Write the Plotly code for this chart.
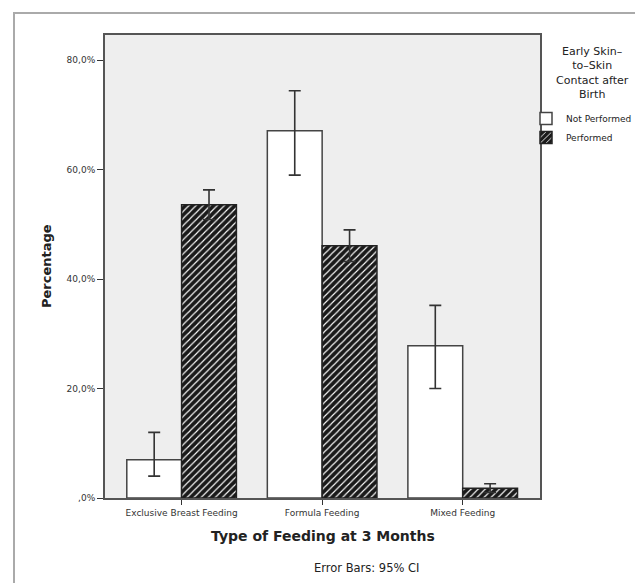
import plotly.graph_objects as go

categories = ["Exclusive Breast Feeding", "Formula Feeding", "Mixed Feeding"]
series_names = ["Not Performed", "Performed"]
not_performed = [7.0, 67.1, 27.8]
not_performed_lo = [4.0, 59.0, 20.0]
not_performed_hi = [12.0, 74.4, 35.2]
performed = [53.6, 46.1, 1.8]
performed_lo = [50.9, 43.2, 1.0]
performed_hi = [56.3, 49.0, 2.6]
y_tickvals = [0, 20, 40, 60, 80]
y_ticktext = [",0%", "20,0%", "40,0%", "60,0%", "80,0%"]

FONT = "DejaVu Sans"
W, H = 643, 583
L, R, T, B = 97, 111, 27, 93
PW, PH = W - L - R, H - T - B


def px_x(px):
    return (px - L) / PW


def px_y(py):
    return (H - B - py) / PH


fig = go.Figure()
fig.add_trace(go.Bar(
    name=series_names[0], x=categories, y=not_performed,
    marker=dict(color="white", line=dict(color="#444444", width=1.5)),
    error_y=dict(type="data", symmetric=False,
                 array=[h - v for h, v in zip(not_performed_hi, not_performed)],
                 arrayminus=[v - l for l, v in zip(not_performed_lo, not_performed)],
                 color="#333333", thickness=1.6, width=6),
))
fig.add_trace(go.Bar(
    name=series_names[1], x=categories, y=performed,
    marker=dict(color="#1a1a1a", line=dict(color="#222222", width=1.5),
                pattern=dict(shape="/", fgcolor="white", bgcolor="#1a1a1a",
                             size=5, solidity=0.22, fillmode="replace")),
    error_y=dict(type="data", symmetric=False,
                 array=[h - v for h, v in zip(performed_hi, performed)],
                 arrayminus=[v - l for l, v in zip(performed_lo, performed)],
                 color="#333333", thickness=1.6, width=6),
))

fig.update_layout(
    width=W, height=H, autosize=False,
    margin=dict(l=L, r=R, t=T, b=B, pad=0),
    paper_bgcolor="white", plot_bgcolor="#eeeeee",
    barmode="group", bargap=0.22, bargroupgap=0,
    font=dict(family=FONT, color="#222222"),
    showlegend=True,
    legend=dict(x=px_x(518), y=px_y(96), xanchor="left", yanchor="top",
                bgcolor="rgba(0,0,0,0)", font=dict(size=9, family=FONT),
                itemwidth=30, tracegroupgap=0),
    xaxis=dict(type="category", range=[-0.545, 2.55], showgrid=False,
               showline=True, linecolor="#555555", linewidth=2, mirror=True,
               ticks="outside", ticklen=5, tickcolor="#333333", tickwidth=1.2,
               tickfont=dict(size=9, family=FONT, color="#333333"), zeroline=False),
    yaxis=dict(range=[0, 84.6], showgrid=False, zeroline=False,
               showline=True, linecolor="#555555", linewidth=2, mirror=True,
               ticks="outside", ticklen=6, tickcolor="#333333", tickwidth=1.2,
               tickvals=y_tickvals, ticktext=y_ticktext,
               tickfont=dict(size=9, family=FONT, color="#333333")),
)

annotations = [
    dict(text="Early Skin–<br>to–Skin<br>Contact after<br>Birth", x=px_x(584), y=px_y(35),
         xanchor="center", yanchor="top", align="center", showarrow=False,
         font=dict(size=11, family=FONT, color="#222222")),
    dict(text="<b>Type of Feeding at 3 Months</b>", x=px_x(315), y=px_y(528),
         xanchor="center", yanchor="middle", showarrow=False,
         font=dict(size=14, family=FONT, color="#222222")),
    dict(text="Error Bars: 95% CI", x=px_x(359), y=px_y(560),
         xanchor="center", yanchor="middle", showarrow=False,
         font=dict(size=11.5, family=FONT, color="#222222")),
    dict(text="<b>Percentage</b>", x=px_x(38), y=px_y(258), textangle=-90,
         xanchor="center", yanchor="middle", showarrow=False,
         font=dict(size=13, family=FONT, color="#222222")),
]
for a in annotations:
    a.update(xref="paper", yref="paper")
fig.update_layout(annotations=annotations)

fig.add_shape(type="rect", xref="paper", yref="paper",
              x0=px_x(6), x1=px_x(637), y0=px_y(578), y1=px_y(5),
              line=dict(color="#aaaaaa", width=2), fillcolor="rgba(0,0,0,0)", layer="below")

fig.write_html("out.html")
